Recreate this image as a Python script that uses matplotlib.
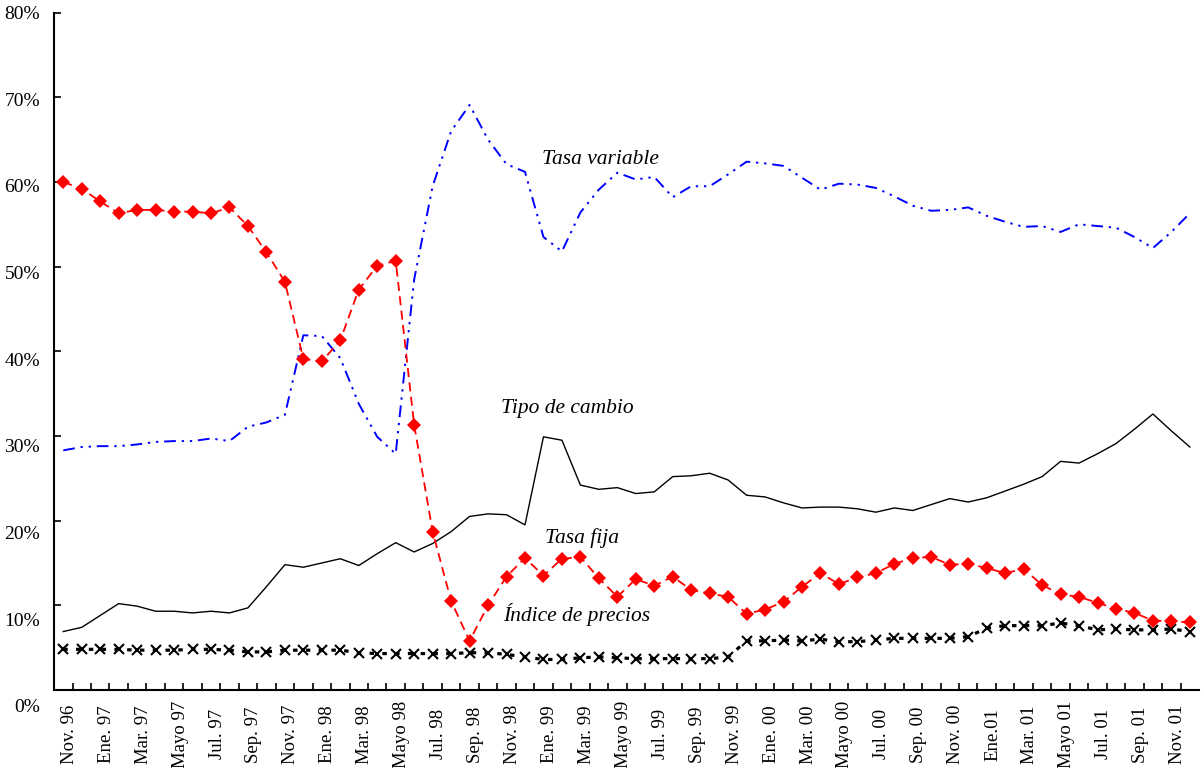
import numpy as np
import matplotlib
matplotlib.use('Agg')
import matplotlib.pyplot as plt
import matplotlib.transforms as mtransforms

plt.rcParams['font.family'] = ['Liberation Serif', 'DejaVu Serif']

# etiquetas del eje x (cada dos meses, nov. 96 - nov. 01)
etiquetas = ['Nov. 96', 'Ene. 97', 'Mar. 97', 'Mayo 97', 'Jul. 97', 'Sep. 97',
             'Nov. 97', 'Ene. 98', 'Mar. 98', 'Mayo 98', 'Jul. 98', 'Sep. 98',
             'Nov. 98', 'Ene. 99', 'Mar. 99', 'Mayo 99', 'Jul. 99', 'Sep. 99',
             'Nov. 99', 'Ene. 00', 'Mar. 00', 'Mayo 00', 'Jul. 00', 'Sep. 00',
             'Nov. 00', 'Ene.01', 'Mar. 01', 'Mayo 01', 'Jul. 01', 'Sep. 01',
             'Nov. 01']

# series mensuales (%), nov. 96 - dic. 01
tasa_fija = [60.0, 59.2, 57.7, 56.3, 56.7, 56.7, 56.5, 56.5, 56.3, 57.0,
             54.8, 51.7, 48.2, 39.1, 38.8, 41.3, 47.3, 50.1, 50.7, 31.3,
             18.7, 10.5, 5.8, 10.0, 13.4, 15.6, 13.5, 15.5, 15.7, 13.2,
             11.0, 13.1, 12.3, 13.4, 11.8, 11.4, 11.0, 9.0, 9.5, 10.4,
             12.2, 13.8, 12.5, 13.3, 13.8, 14.9, 15.6, 15.7, 14.8, 14.9,
             14.4, 13.8, 14.3, 12.4, 11.3, 11.0, 10.3, 9.6, 9.1, 8.2,
             8.1, 8.0]

tasa_variable = [28.3, 28.7, 28.8, 28.8, 29.0, 29.3, 29.4, 29.4, 29.7, 29.4,
                 31.1, 31.6, 32.5, 41.9, 41.8, 39.2, 33.8, 29.9, 27.9, 48.5,
                 59.5, 66.0, 69.1, 65.0, 62.1, 61.2, 53.5, 51.8, 56.4, 59.1,
                 61.1, 60.3, 60.6, 58.2, 59.5, 59.5, 60.9, 62.4, 62.2, 61.9,
                 60.5, 59.1, 59.8, 59.7, 59.3, 58.3, 57.2, 56.6, 56.7, 57.0,
                 56.0, 55.3, 54.7, 54.8, 54.1, 55.0, 54.8, 54.6, 53.5, 52.2,
                 54.1, 56.3]

tipo_cambio = [6.9, 7.4, 8.8, 10.2, 9.9, 9.3, 9.3, 9.1, 9.3, 9.1,
               9.7, 12.2, 14.8, 14.5, 15.0, 15.5, 14.7, 16.1, 17.4, 16.3,
               17.3, 18.7, 20.5, 20.8, 20.7, 19.5, 29.9, 29.5, 24.2, 23.7,
               23.9, 23.2, 23.4, 25.2, 25.3, 25.6, 24.8, 23.0, 22.8, 22.1,
               21.5, 21.6, 21.6, 21.4, 21.0, 21.5, 21.2, 21.9, 22.6, 22.2,
               22.7, 23.5, 24.3, 25.2, 27.0, 26.8, 27.9, 29.1, 30.8, 32.6,
               30.6, 28.7]

indice_precios = [4.8, 4.8, 4.8, 4.8, 4.7, 4.7, 4.7, 4.8, 4.8, 4.7,
                  4.5, 4.5, 4.7, 4.7, 4.7, 4.7, 4.4, 4.3, 4.3, 4.3,
                  4.3, 4.3, 4.4, 4.4, 4.2, 3.9, 3.6, 3.6, 3.8, 3.9,
                  3.8, 3.7, 3.7, 3.7, 3.7, 3.7, 3.9, 5.8, 5.8, 5.9,
                  5.8, 6.0, 5.7, 5.7, 5.9, 6.1, 6.1, 6.1, 6.1, 6.3,
                  7.3, 7.6, 7.6, 7.6, 7.9, 7.6, 7.1, 7.2, 7.1, 7.1,
                  7.2, 6.9]

x = np.arange(len(tasa_fija))

fig = plt.figure(figsize=(12.01, 7.68), dpi=100)
ax = fig.add_axes([0.045, 0.1016, 0.9534, 0.8819])

ax.plot(x, tipo_cambio, color='black', lw=1.0)
ax.plot(x, tasa_variable, color='#0000ff', lw=1.4,
        linestyle=(0, (6, 3, 1.2, 3, 1.2, 3)))
ax.plot(x, indice_precios, color='black', lw=2.3, linestyle=(0, (1.4, 2.6)),
        marker='x', markersize=7.5, markeredgewidth=1.5)
ax.plot(x, tasa_fija, color='#ff0000', lw=1.3, linestyle=(0, (5, 3)),
        marker='D', markersize=7, markeredgewidth=0)

ax.set_xlim(-0.5, len(x) - 0.5)
ax.set_ylim(0, 80)

for s in ['top', 'right']:
    ax.spines[s].set_visible(False)
for s in ['left', 'bottom']:
    ax.spines[s].set_linewidth(1.5)

yt = np.arange(0, 81, 10)
ax.set_yticks(yt)
ax.set_yticklabels([f'{v}%' for v in yt], fontsize=14, va='center')
ax.tick_params(axis='y', direction='in', length=5, width=1.2, pad=10)
# etiquetas del eje y algo desplazadas hacia abajo, como en el original
for v, lab in zip(yt, ax.get_yticklabels()):
    dy = (2 + 2 * (80 - v) / 10) / 100
    lab.set_transform(lab.get_transform() +
                      mtransforms.ScaledTranslation(0, -dy, fig.dpi_scale_trans))

ax.set_xticks(x[::2])
ax.set_xticklabels(etiquetas, rotation=90, fontsize=13.5, va='center', ha='center')
ax.set_xticks(x[:-1] + 0.5, minor=True)
ax.tick_params(axis='x', which='major', length=0, pad=32)
ax.tick_params(axis='x', which='minor', direction='in', length=5, width=1.2)
shift = mtransforms.ScaledTranslation(6 / 100, 0, fig.dpi_scale_trans)
for lab in ax.get_xticklabels():
    lab.set_transform(lab.get_transform() + shift)

ax.text(29.1, 62.6, 'Tasa variable', fontsize=15.5, style='italic',
        ha='center', va='center')
ax.text(27.3, 33.2, 'Tipo de cambio', fontsize=15.5, style='italic',
        ha='center', va='center')
ax.text(28.1, 18.0, 'Tasa fija', fontsize=15.5, style='italic',
        ha='center', va='center')
ax.text(27.8, 8.9, 'Índice de precios', fontsize=15.5, style='italic',
        ha='center', va='center')

fig.savefig('out.png', dpi=100)
